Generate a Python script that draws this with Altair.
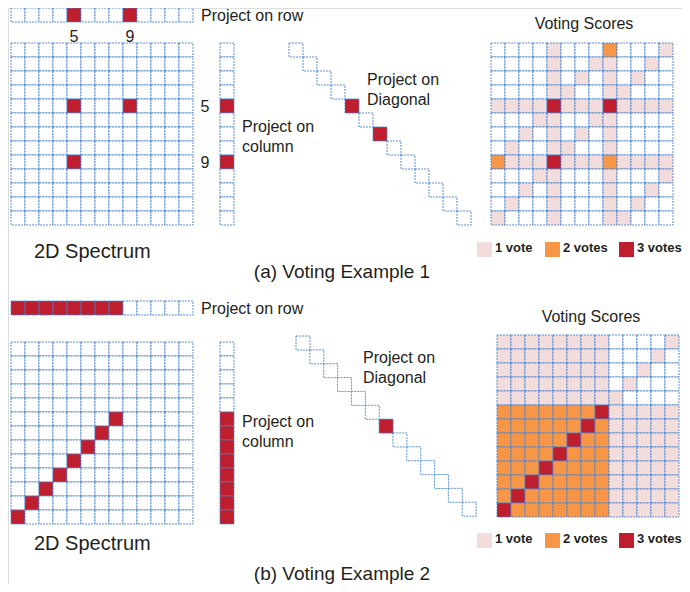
import altair as alt
import pandas as pd

N = 13

# ---------------- Example 1 data ----------------
ex1_row_proj = [0, 0, 0, 0, 1, 0, 0, 0, 1, 0, 0, 0, 0]
ex1_col_proj = [0, 0, 0, 0, 1, 0, 0, 0, 1, 0, 0, 0, 0]
ex1_diag_proj = [0, 0, 0, 0, 1, 0, 1, 0, 0, 0, 0, 0, 0]
ex1_spectrum = [
    "0000000000000",
    "0000000000000",
    "0000000000000",
    "0000000000000",
    "0000100010000",
    "0000000000000",
    "0000000000000",
    "0000000000000",
    "0000100000000",
    "0000000000000",
    "0000000000000",
    "0000000000000",
    "0000000000000",
]
ex1_votes = [
    "0000100020001",
    "0000100110010",
    "0000101010100",
    "0000110011000",
    "1111311131111",
    "0001100110000",
    "0010101010000",
    "0100110010000",
    "2111311121111",
    "0001100010001",
    "0010100010010",
    "0100100010100",
    "1000100011000",
]

# ---------------- Example 2 data ----------------
ex2_row_proj = [1, 1, 1, 1, 1, 1, 1, 1, 0, 0, 0, 0, 0]
ex2_col_proj = [0, 0, 0, 0, 0, 1, 1, 1, 1, 1, 1, 1, 1]
ex2_diag_proj = [0, 0, 0, 0, 0, 0, 1, 0, 0, 0, 0, 0, 0]
ex2_spectrum = [
    "0000000000000",
    "0000000000000",
    "0000000000000",
    "0000000000000",
    "0000000000000",
    "0000000100000",
    "0000001000000",
    "0000010000000",
    "0000100000000",
    "0001000000000",
    "0010000000000",
    "0100000000000",
    "1000000000000",
]
ex2_votes = [
    "1111111100001",
    "1111111100010",
    "1111111100100",
    "1111111101000",
    "1111111110000",
    "2222222311111",
    "2222223211111",
    "2222232211111",
    "2222322211111",
    "2223222211111",
    "2232222211111",
    "2322222211111",
    "3222222211111",
]

vote_levels = ["0", "1", "2", "3"]
vote_colors = ["#ffffff", "#f2dcdc", "#f79646", "#be1e2d"]
legend_labels = ["1 vote", "2 votes", "3 votes"]

CELL = 14


def grid_cells(rows, ox, oy, peak_as="3"):
    out = []
    for r, line in enumerate(rows):
        for c, ch in enumerate(line):
            v = ch
            if peak_as and ch == "1":
                v = peak_as
            out.append(dict(x0=ox + c * CELL, x1=ox + (c + 1) * CELL,
                            y0=oy + r * CELL, y1=oy + (r + 1) * CELL, v=v))
    return out


def row_cells(vals, ox, oy):
    return [dict(x0=ox + i * CELL, x1=ox + (i + 1) * CELL, y0=oy, y1=oy + CELL,
                 v="3" if s else "0") for i, s in enumerate(vals)]


def col_cells(vals, ox, oy):
    return [dict(x0=ox, x1=ox + CELL, y0=oy + i * CELL, y1=oy + (i + 1) * CELL,
                 v="3" if s else "0") for i, s in enumerate(vals)]


def diag_cells(vals, ox, oy, step):
    return [dict(x0=ox + i * step, x1=ox + i * step + CELL,
                 y0=oy + i * step, y1=oy + i * step + CELL,
                 v="3" if s else "0") for i, s in enumerate(vals)]


cells = []
# Example 1 panels
cells += row_cells(ex1_row_proj, 11, 8)
cells += grid_cells(ex1_spectrum, 11, 43)
cells += col_cells(ex1_col_proj, 220, 43)
cells += diag_cells(ex1_diag_proj, 289, 43, 14)
cells += grid_cells(ex1_votes, 491, 43, peak_as=None)
# Example 2 panels
cells += row_cells(ex2_row_proj, 11, 301)
cells += grid_cells(ex2_spectrum, 11, 342)
cells += col_cells(ex2_col_proj, 220, 342)
cells += diag_cells(ex2_diag_proj, 296, 336, 13.85)
cells += grid_cells(ex2_votes, 497, 335, peak_as=None)
cells_df = pd.DataFrame(cells)

# legend swatches
legend_rows = []
for ly in (242, 533):
    for lx, lev in zip((477, 545, 619), ("1", "2", "3")):
        legend_rows.append(dict(x0=lx, x1=lx + 15, y0=ly, y1=ly + 15, v=lev))
legend_df = pd.DataFrame(legend_rows)

legend_text = []
for by in (252, 543):
    for lx, lab in zip((495, 563, 637), legend_labels):
        legend_text.append(dict(x=lx, y=by, t=lab))
legend_text_df = pd.DataFrame(legend_text)

left_text = pd.DataFrame([
    dict(x=201, y=21, t="Project on row", s=16),
    dict(x=242, y=132, t="Project on", s=16),
    dict(x=242, y=152, t="column", s=16),
    dict(x=367, y=85, t="Project on", s=16),
    dict(x=367, y=105, t="Diagonal", s=16),
    dict(x=34, y=258, t="2D Spectrum", s=20),
    dict(x=201, y=314, t="Project on row", s=16),
    dict(x=242, y=427, t="Project on", s=16),
    dict(x=242, y=447, t="column", s=16),
    dict(x=363, y=363, t="Project on", s=16),
    dict(x=363, y=383, t="Diagonal", s=16),
    dict(x=34, y=550, t="2D Spectrum", s=20),
])

center_text = pd.DataFrame([
    dict(x=74, y=42, t="5", s=16),
    dict(x=130, y=42, t="9", s=16),
    dict(x=205, y=112, t="5", s=16),
    dict(x=205, y=168, t="9", s=16),
    dict(x=584, y=29, t="Voting Scores", s=16),
    dict(x=591, y=322, t="Voting Scores", s=16),
    dict(x=342, y=278, t="(a) Voting Example 1", s=19),
    dict(x=342, y=580, t="(b) Voting Example 2", s=19),
])

# the drawing area spans the page from x = 8 to 682 and y = 8 to 584
xs = alt.Scale(domain=[8, 682], nice=False, zero=False)
ys = alt.Scale(domain=[8, 584], nice=False, zero=False, reverse=True)
color = alt.Scale(domain=vote_levels, range=vote_colors)

grid = alt.Chart(cells_df).mark_rect(
    stroke="#4a84cf", strokeDash=[2, 1], strokeWidth=0.9
).encode(
    x=alt.X("x0:Q", scale=xs, axis=None),
    x2="x1:Q",
    y=alt.Y("y0:Q", scale=ys, axis=None),
    y2="y1:Q",
    fill=alt.Fill("v:N", scale=color, legend=None),
)

swatches = alt.Chart(legend_df).mark_rect().encode(
    x=alt.X("x0:Q", scale=xs, axis=None),
    x2="x1:Q",
    y=alt.Y("y0:Q", scale=ys, axis=None),
    y2="y1:Q",
    fill=alt.Fill("v:N", scale=color, legend=None),
)

font = "Liberation Sans"
tcol = "#231f20"

legend_labels_layer = alt.Chart(legend_text_df).mark_text(
    align="left", baseline="alphabetic", font=font, fontSize=13,
    fontWeight="bold", color=tcol
).encode(
    x=alt.X("x:Q", scale=xs, axis=None),
    y=alt.Y("y:Q", scale=ys, axis=None),
    text="t:N",
)

left_layer = alt.Chart(left_text).mark_text(
    align="left", baseline="alphabetic", font=font, color=tcol
).encode(
    x=alt.X("x:Q", scale=xs, axis=None),
    y=alt.Y("y:Q", scale=ys, axis=None),
    text="t:N",
    size=alt.Size("s:Q", scale=None, legend=None),
)

center_layer = alt.Chart(center_text).mark_text(
    align="center", baseline="alphabetic", font=font, color=tcol
).encode(
    x=alt.X("x:Q", scale=xs, axis=None),
    y=alt.Y("y:Q", scale=ys, axis=None),
    text="t:N",
    size=alt.Size("s:Q", scale=None, legend=None),
)

chart = alt.layer(
    grid, swatches, legend_labels_layer, left_layer, center_layer
).properties(
    width=674, height=576,
    autosize=alt.AutoSizeParams(type="none"),
    padding=0,
).configure_view(stroke=None).configure(background="white")

chart.save("out.html", embed_options={"renderer": "svg", "actions": False})
